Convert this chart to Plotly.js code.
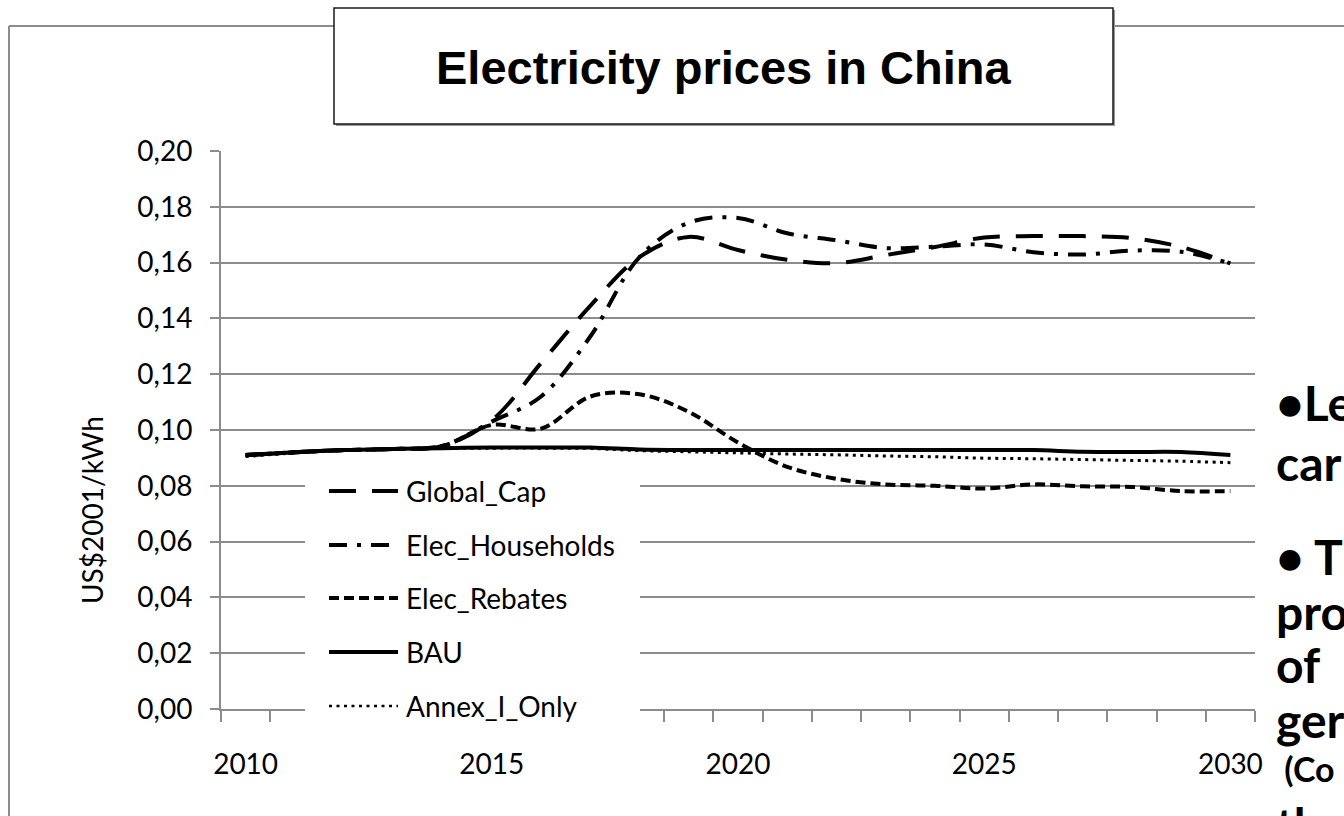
<!DOCTYPE html>
<html>
<head>
<meta charset="utf-8">
<script src="https://cdn.plot.ly/plotly-3.0.1.min.js"></script>
<style>
  html, body { margin: 0; padding: 0; background: #ffffff; }
  #chart { width: 1344px; height: 816px; }
</style>
</head>
<body>
<div id="chart"></div>
<script>
// ---- data ----
const years = [2010, 2011, 2012, 2013, 2014, 2015, 2016, 2017, 2018, 2019, 2020,
               2021, 2022, 2023, 2024, 2025, 2026, 2027, 2028, 2029, 2030];

const globalCap = [0.0910, 0.0920, 0.0928, 0.0932, 0.0943, 0.1035, 0.1240, 0.1445, 0.1620, 0.1692, 0.1645,
                   0.1610, 0.1598, 0.1627, 0.1656, 0.1690, 0.1695, 0.1695, 0.1688, 0.1656, 0.1597];

const elecHouseholds = [0.0910, 0.0920, 0.0928, 0.0932, 0.0943, 0.1030, 0.1120, 0.1335, 0.1620, 0.1743, 0.1760,
                        0.1705, 0.1680, 0.1652, 0.1657, 0.1665, 0.1637, 0.1629, 0.1643, 0.1639, 0.1597];

const elecRebates = [0.0910, 0.0920, 0.0928, 0.0932, 0.0943, 0.1018, 0.1005, 0.1120, 0.1128, 0.1065, 0.0955,
                     0.0868, 0.0825, 0.0805, 0.0800, 0.0790, 0.0805, 0.0798, 0.0796, 0.0781, 0.0781];

const bau = [0.0910, 0.0920, 0.0928, 0.0932, 0.0935, 0.0937, 0.0937, 0.0937, 0.0930, 0.0928, 0.0928,
             0.0928, 0.0928, 0.0928, 0.0928, 0.0928, 0.0928, 0.0922, 0.0921, 0.0921, 0.0910];

const annexIOnly = [0.0905, 0.0918, 0.0927, 0.0931, 0.0934, 0.0935, 0.0935, 0.0934, 0.0926, 0.0922, 0.0918,
                    0.0914, 0.0911, 0.0907, 0.0904, 0.0899, 0.0897, 0.0894, 0.0891, 0.0888, 0.0883];

const seriesNames = ["Global_Cap", "Elec_Households", "Elec_Rebates", "BAU", "Annex_I_Only"];
const xTickLabels = [2010, 2015, 2020, 2025, 2030];
const yTickVals = [0, 0.02, 0.04, 0.06, 0.08, 0.10, 0.12, 0.14, 0.16, 0.18, 0.20];

const chartTitle = "Electricity prices in China";
const yTitle = "US$2001/kWh";
const sideText = ["\u2022Le", "car", "\u2022 T", "pro", "of", "ger", " (Co", "the"];

// ---- styles ----
const styles = [
  {width: 4, dash: "27px,16px"},
  {width: 4, dash: "18px,10px,4px,10px"},
  {width: 4, dash: "10px,5px"},
  {width: 4, dash: "solid"},
  {width: 3, dash: "3px,4.5px"}
];
const values = [globalCap, elecHouseholds, elecRebates, bau, annexIOnly];

// plot area in pixels
const L = 221, R = 1255, T = 151, B = 709, W = 1344, H = 816;
const px = v => (v - L) / (R - L);
const py = v => (B - v) / (B - T);

const FONT = "Lato, 'Open Sans', sans-serif";
const GRID = "#8c8c8c";

const traces = values.map((vals, i) => ({
  type: "scatter",
  mode: "lines",
  name: seriesNames[i],
  x: years,
  y: vals,
  line: {color: "#000000", width: styles[i].width, dash: styles[i].dash, shape: "spline", smoothing: 1},
  showlegend: false,
  hoverinfo: "skip"
}));

const shapes = [];
const annotations = [];

// outer chart border (top & left visible)
shapes.push({type: "line", xref: "paper", yref: "paper", x0: px(9), x1: px(W + 5), y0: py(26), y1: py(26),
             line: {color: GRID, width: 2}, layer: "above"});
shapes.push({type: "line", xref: "paper", yref: "paper", x0: px(9), x1: px(9), y0: py(26), y1: py(H + 5),
             line: {color: GRID, width: 2}, layer: "above"});
// title box with slight shadow
shapes.push({type: "rect", xref: "paper", yref: "paper", x0: px(336), x1: px(1115), y0: py(10), y1: py(126),
             fillcolor: "#9a9a9a", line: {width: 0}, layer: "above"});
shapes.push({type: "rect", xref: "paper", yref: "paper", x0: px(334), x1: px(1113), y0: py(8), y1: py(124),
             fillcolor: "#ffffff", line: {color: "#1a1a1a", width: 1.5}, layer: "above"});
annotations.push({xref: "paper", yref: "paper", x: px(724), y: py(68), text: chartTitle, showarrow: false,
                  xanchor: "center", yanchor: "middle",
                  font: {family: "'Liberation Sans', Arial, sans-serif", size: 47, color: "#000000", weight: 700}});

// legend (drawn manually to match long symbol lines)
shapes.push({type: "rect", xref: "paper", yref: "paper", x0: px(305), x1: px(640), y0: py(463), y1: py(735),
             fillcolor: "#ffffff", line: {width: 0}, layer: "above"});
const legendY = [491, 545, 598, 652, 706];
seriesNames.forEach((nm, i) => {
  shapes.push({type: "line", xref: "paper", yref: "paper", x0: px(329), x1: px(398), y0: py(legendY[i]), y1: py(legendY[i]),
               line: {color: "#000000", width: i === 4 ? 2.5 : 4, dash: styles[i].dash}, layer: "above"});
  annotations.push({xref: "paper", yref: "paper", x: px(404), y: py(legendY[i]), text: nm, showarrow: false,
                    xanchor: "left", yanchor: "middle", font: {family: FONT, size: 28, color: "#000000"}});
});

// y-axis title
annotations.push({xref: "paper", yref: "paper", x: px(92), y: py(510), text: yTitle, showarrow: false, textangle: -90,
                  xanchor: "center", yanchor: "middle", font: {family: FONT, size: 28, color: "#000000"}});

// side text (slide text running off the right edge)
const sideY = [402, 462, 556, 611, 664, 719, 768, 824];
sideText.forEach((t, i) => {
  annotations.push({xref: "paper", yref: "paper", x: px(1274), y: py(sideY[i]), text: t, showarrow: false,
                    xanchor: "left", yanchor: "middle",
                    font: {family: FONT, size: i === 6 ? 34 : 48, color: "#000000", weight: 700}});
});

const layout = {
  width: W, height: H,
  margin: {l: L, r: W - R, t: T, b: H - B, pad: 0},
  paper_bgcolor: "#ffffff",
  plot_bgcolor: "#ffffff",
  separators: ",.",
  showlegend: false,
  hovermode: false,
  xaxis: {
    range: [2009.5, 2030.5],
    tickmode: "array",
    tickvals: xTickLabels,
    ticktext: xTickLabels.map(String),
    ticks: "",
    ticklabelstandoff: 29,
    showgrid: false,
    zeroline: false,
    showline: true,
    linecolor: GRID,
    linewidth: 2,
    tickfont: {family: FONT, size: 28, color: "#000000"},
    minor: {tick0: 2009.5, dtick: 1, ticks: "outside", ticklen: 11, tickwidth: 2, tickcolor: GRID, showgrid: false},
    fixedrange: true
  },
  yaxis: {
    range: [0, 0.2],
    tickmode: "array",
    tickvals: yTickVals,
    tickformat: ".2f",
    ticks: "outside",
    ticklen: 9,
    tickwidth: 2,
    tickcolor: GRID,
    ticklabelstandoff: 12,
    showgrid: true,
    gridcolor: GRID,
    gridwidth: 2,
    zeroline: false,
    showline: true,
    linecolor: GRID,
    linewidth: 2,
    tickfont: {family: FONT, size: 28, color: "#000000"},
    fixedrange: true
  },
  shapes: shapes,
  annotations: annotations
};

Plotly.newPlot("chart", traces, layout, {staticPlot: true, displayModeBar: false});
</script>
</body>
</html>
